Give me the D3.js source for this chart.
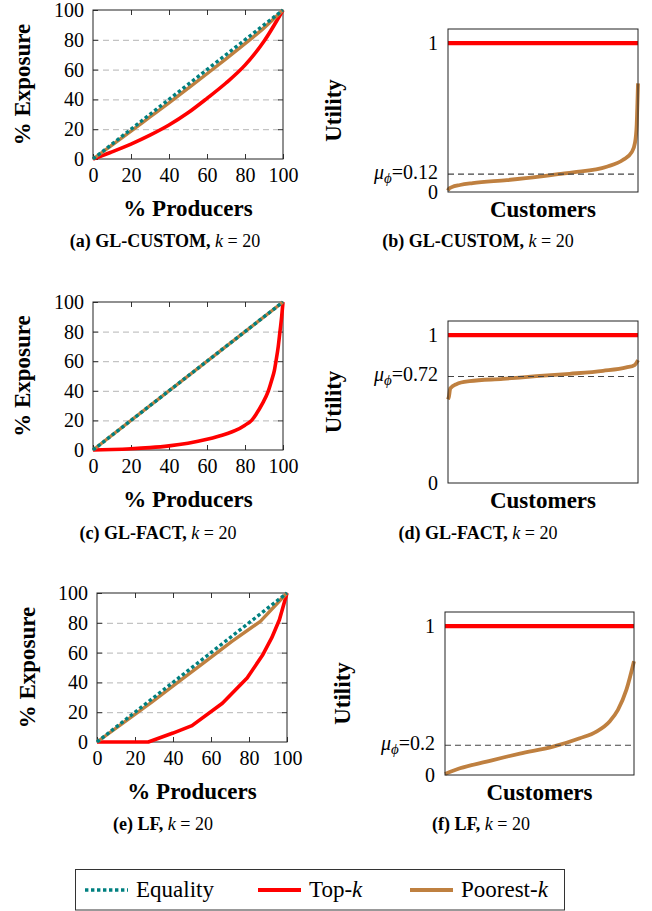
<!DOCTYPE html>
<html><head><meta charset="utf-8">
<script src="https://cdn.jsdelivr.net/npm/d3@7"></script>
<style>body{margin:0;background:#fff} svg{display:block} text{font-family:"Liberation Serif","Times New Roman",serif}</style>
</head><body><svg id="c" width="652" height="911"></svg>
<script>
// ---------------- data ----------------
const pctTicks = [0, 20, 40, 60, 80, 100];
const gridTicks = [20, 40, 60, 80];
const equalityX = [0, 100];
const equalityY = [0, 100];

// (a) GL-CUSTOM Lorenz curves
const aTopX = [0, 5, 10, 20, 30, 40, 50, 60, 70, 80, 90, 100];
const aTopY = [0, 2.3, 4.8, 10, 16, 22.8, 31, 40.7, 51, 63, 79, 100];
const aPoorX = [0, 10, 20, 30, 40, 50, 60, 70, 80, 90, 100];
const aPoorY = [0, 9.3, 18.7, 28.2, 37.7, 47.4, 57.2, 67.2, 77.4, 88, 100];

// (c) GL-FACT Lorenz curves
const cTopX = [0, 10, 20, 30, 40, 50, 60, 70, 75, 80, 83.5, 86, 89, 92.3, 94, 95.5, 96.3, 97.5, 98.4, 99.3, 100];
const cTopY = [0, 0.3, 0.8, 1.6, 2.8, 4.6, 7.2, 10.8, 13.2, 16.8, 20, 24.5, 31, 40, 47, 54, 60, 70, 80, 90, 100];
const cPoorX = [0, 100];
const cPoorY = [0, 100];

// (e) LF Lorenz curves
const eTopX = [0, 27, 40, 50, 66, 79, 87, 92, 96, 100];
const eTopY = [0, 0, 6, 11, 26, 43, 58, 70, 82, 100];
const ePoorX = [0, 14, 29, 43, 57, 71, 86, 100];
const ePoorY = [0, 13, 27, 40.5, 54, 67.5, 81, 100];

// Utility curves (customers sorted, x = fraction of customers)
const topKUtilX = [0, 1];
const topKUtilY = [1, 1];
const bPoorX = [0, 0.005, 0.02, 0.063, 0.13, 0.31, 0.48, 0.58, 0.658, 0.835, 0.92, 0.968, 0.984, 0.993, 0.997, 1.0];
const bPoorY = [0.01, 0.022, 0.033, 0.047, 0.06, 0.08, 0.103, 0.12, 0.132, 0.17, 0.215, 0.27, 0.33, 0.45, 0.6, 0.73];
const bMu = 0.12;
const dPoorX = [0, 0.005, 0.012, 0.044, 0.114, 0.289, 0.465, 0.64, 0.816, 0.939, 0.982, 1.0];
const dPoorY = [0.565, 0.585, 0.639, 0.668, 0.688, 0.704, 0.722, 0.738, 0.758, 0.781, 0.797, 0.83];
const dMu = 0.72;
const fPoorX = [0, 0.079, 0.22, 0.396, 0.572, 0.713, 0.801, 0.871, 0.915, 0.96, 1.0];
const fPoorY = [0.007, 0.045, 0.09, 0.144, 0.191, 0.247, 0.292, 0.36, 0.438, 0.573, 0.764];
const fMu = 0.2;
const utilTicks = [0, 1];

// captions & legend
const panelLetters = ["a", "b", "c", "d", "e", "f"];
const panelMethods = ["GL-CUSTOM", "GL-CUSTOM", "GL-FACT", "GL-FACT", "LF", "LF"];
const kValue = 20;
const legendLabels = ["Equality", "Top-", "Poorest-"];
const legendItalic = ["", "k", "k"];

// ---------------- style / layout ----------------
const TEAL = "#008080", RED = "#ff0000", BROWN = "#bf8040";
const svg = d3.select("#c");

function styleAxis(sel, size) {
  sel.attr("font-family", '"Liberation Serif","Times New Roman",serif')
     .attr("font-size", size).attr("color", "#000");
  sel.select(".domain").remove();
  sel.selectAll(".tick line").attr("stroke", "#333");
}

function lorenz(L, topX, topY, poorX, poorY, curve) {
  const x = d3.scaleLinear().domain([0, 100]).range([L.x0, L.x1]);
  const y = d3.scaleLinear().domain([0, 100]).range([L.y1, L.y0]);
  const g = svg.append("g");
  g.append("g").attr("transform", `translate(${L.x0},0)`)
    .call(d3.axisLeft(y).tickValues(gridTicks).tickSize(-(L.x1 - L.x0)).tickFormat(""))
    .call(s => { s.select(".domain").remove(); s.selectAll("line").attr("stroke", "#b5b5b5").attr("stroke-dasharray", "6,4"); });
  g.append("g").attr("transform", `translate(0,${L.y1})`)
    .call(d3.axisBottom(x).tickValues(pctTicks).tickSize(-5).tickPadding(9)).call(s => styleAxis(s, 20));
  g.append("g").attr("transform", `translate(0,${L.y0})`)
    .call(d3.axisTop(x).tickValues(gridTicks).tickSize(-5).tickFormat("")).call(s => styleAxis(s, 20));
  g.append("g").attr("transform", `translate(${L.x0},0)`)
    .call(d3.axisLeft(y).tickValues(pctTicks).tickSize(-5).tickPadding(9)).call(s => styleAxis(s, 20));
  g.append("g").attr("transform", `translate(${L.x1},0)`)
    .call(d3.axisRight(y).tickValues(gridTicks).tickSize(-5).tickFormat("")).call(s => styleAxis(s, 20));
  g.append("rect").attr("x", L.x0).attr("y", L.y0).attr("width", L.x1 - L.x0).attr("height", L.y1 - L.y0)
    .attr("fill", "none").attr("stroke", "#222").attr("stroke-width", 1);
  const line = d3.line().x(d => x(d[0])).y(d => y(d[1])).curve(curve);
  g.append("path").datum(d3.zip(topX, topY)).attr("d", line).attr("fill", "none")
    .attr("stroke", RED).attr("stroke-width", 3.6).attr("stroke-linejoin", "round");
  g.append("path").datum(d3.zip(poorX, poorY)).attr("d", line).attr("fill", "none")
    .attr("stroke", BROWN).attr("stroke-width", 3.4).attr("stroke-linejoin", "round");
  g.append("path").datum(d3.zip(equalityX, equalityY)).attr("d", line).attr("fill", "none")
    .attr("stroke", TEAL).attr("stroke-width", 3.4).attr("stroke-dasharray", "3.4,2.6");
  g.append("text").attr("x", (L.x0 + L.x1) / 2).attr("y", L.y1 + 57).attr("text-anchor", "middle")
    .attr("font-size", 23).attr("font-weight", "bold").text("% Producers");
  g.append("text").attr("transform", `translate(${L.tx},${(L.y0 + L.y1) / 2}) rotate(-90)`)
    .attr("text-anchor", "middle").attr("dominant-baseline", "central")
    .attr("font-size", 23).attr("font-weight", "bold").text("% Exposure");
}

function utility(L, poorX, poorY, mu) {
  const x = d3.scaleLinear().domain([0, 1]).range([L.x0, L.x1]);
  const y = d3.scaleLinear().domain([0, 1.095]).range([L.y1, L.y0]);
  const g = svg.append("g");
  const line = d3.line().x(d => x(d[0])).y(d => y(d[1]));
  g.append("path").datum(d3.zip(topKUtilX, topKUtilY)).attr("d", line).attr("fill", "none")
    .attr("stroke", RED).attr("stroke-width", 4.2);
  g.append("path").datum(d3.zip(poorX, poorY)).attr("d", line.curve(d3.curveMonotoneX)).attr("fill", "none")
    .attr("stroke", BROWN).attr("stroke-width", 3.8).attr("stroke-linecap", "butt");
  g.append("path").datum([[0, mu], [1, mu]]).attr("d", d3.line().x(d => x(d[0])).y(d => y(d[1])))
    .attr("stroke", "#444").attr("stroke-width", 1.1).attr("stroke-dasharray", "6,4");
  g.append("rect").attr("x", L.x0).attr("y", L.y0).attr("width", L.x1 - L.x0).attr("height", L.y1 - L.y0)
    .attr("fill", "none").attr("stroke", "#222").attr("stroke-width", 1);
  g.append("g").attr("transform", `translate(${L.x0},0)`)
    .call(d3.axisLeft(y).tickValues(utilTicks.concat([mu])).tickSize(0).tickPadding(10).tickFormat(d => String(d)))
    .call(s => styleAxis(s, 20))
    .call(s => s.selectAll(".tick text").each(function (d) {
      if (d === mu) {
        const t = d3.select(this);
        t.text(null).attr("dy", "0.2em");
        t.append("tspan").attr("font-style", "italic").text("μ");
        t.append("tspan").attr("font-style", "italic").attr("font-size", 15).attr("dy", 4).text("ϕ");
        t.append("tspan").attr("dy", -4).text("=" + String(mu));
      }
    }));
  g.append("text").attr("x", (L.x0 + L.x1) / 2).attr("y", L.y1 + 25).attr("text-anchor", "middle")
    .attr("font-size", 23).attr("font-weight", "bold").text("Customers");
  g.append("text").attr("transform", `translate(${L.tx},${(L.y0 + L.y1) / 2}) rotate(-90)`)
    .attr("text-anchor", "middle").attr("dominant-baseline", "central")
    .attr("font-size", 23).attr("font-weight", "bold").text("Utility");
}

lorenz({x0: 93, x1: 283, y0: 10, y1: 159, tx: 22}, aTopX, aTopY, aPoorX, aPoorY, d3.curveMonotoneX);
lorenz({x0: 93, x1: 283, y0: 302, y1: 450, tx: 22}, cTopX, cTopY, cPoorX, cPoorY, d3.curveMonotoneX);
lorenz({x0: 97, x1: 287, y0: 593, y1: 742, tx: 27}, eTopX, eTopY, ePoorX, ePoorY, d3.curveLinear);
utility({x0: 448, x1: 638, y0: 29, y1: 192, tx: 333}, bPoorX, bPoorY, bMu);
utility({x0: 448, x1: 638, y0: 321, y1: 483, tx: 333}, dPoorX, dPoorY, dMu);
utility({x0: 445, x1: 634, y0: 612, y1: 775, tx: 342}, fPoorX, fPoorY, fMu);

// captions
const capPos = [[165, 247], [478, 247], [158, 539], [478, 539], [163, 830], [481, 830]];
panelLetters.forEach((l, i) => {
  const t = svg.append("text").attr("x", capPos[i][0]).attr("y", capPos[i][1])
    .attr("text-anchor", "middle").attr("font-size", 18).attr("xml:space", "preserve");
  t.append("tspan").attr("font-weight", "bold").text(`(${l}) ${panelMethods[i]},`);
  t.append("tspan").text(" ");
  t.append("tspan").attr("font-style", "italic").text("k");
  t.append("tspan").text(` = ${kValue}`);
});

// legend
svg.append("rect").attr("x", 75.5).attr("y", 869.5).attr("width", 489).attr("height", 40.5)
  .attr("fill", "#fff").attr("stroke", "#333").attr("stroke-width", 1);
const legX = [85, 258, 410];
const legColors = [TEAL, RED, BROWN];
legendLabels.forEach((lab, i) => {
  const ln = svg.append("line").attr("x1", legX[i]).attr("x2", legX[i] + 43).attr("y1", 890).attr("y2", 890)
    .attr("stroke", legColors[i]).attr("stroke-width", i === 0 ? 3.4 : 4);
  if (i === 0) ln.attr("stroke-dasharray", "3.4,2.6");
  const t = svg.append("text").attr("x", legX[i] + 51).attr("y", 897).attr("font-size", 23);
  t.append("tspan").text(lab);
  if (legendItalic[i]) t.append("tspan").attr("font-style", "italic").text(legendItalic[i]);
});
</script></body></html>
